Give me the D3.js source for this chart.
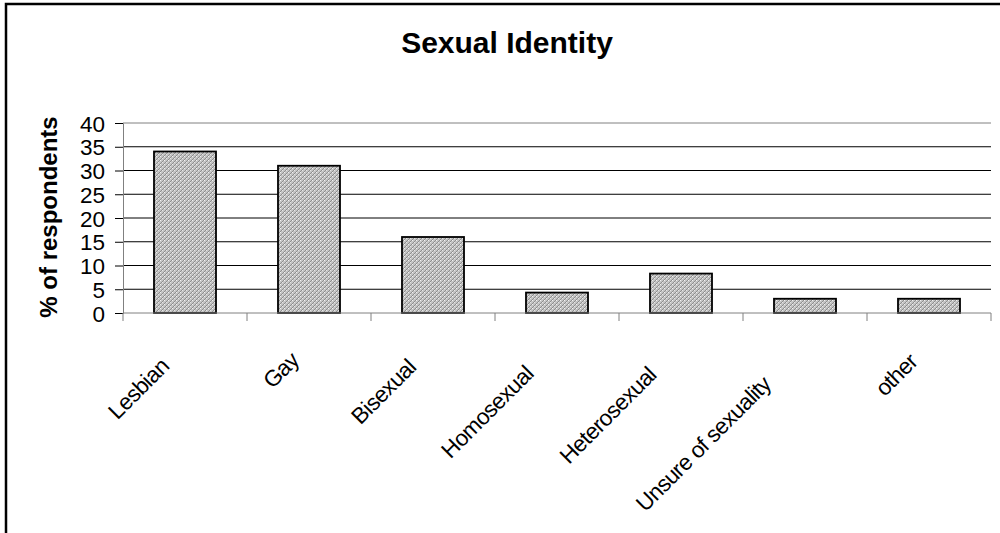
<!DOCTYPE html>
<html lang="en">
  <head>
    <meta charset="UTF-8" />
    <title>Sexual Identity</title>
    <script src="https://d3js.org/d3.v7.min.js"></script>
    <style>
      body {
        margin: 0;
        background: white;
        font-family: 'Liberation Sans', Arial, sans-serif;
      }
    </style>
  </head>
  <body>
    <div id="chart"></div>
    <script>
      const categories = ['Lesbian', 'Gay', 'Bisexual', 'Homosexual', 'Heterosexual', 'Unsure of sexuality', 'other'];
      const values = [34, 31, 16, 4.3, 8.3, 3, 3];
      const yTicks = [0, 5, 10, 15, 20, 25, 30, 35, 40];

      const W = 1000, H = 533;
      const plotL = 123, plotR = 991, plotT = 123, plotB = 313;

      const svg = d3.select('#chart').append('svg')
        .attr('width', W)
        .attr('height', H);

      // hatched grey fill like the old spreadsheet pattern
      const pat = svg.append('defs').append('pattern')
        .attr('id', 'hatch')
        .attr('patternUnits', 'userSpaceOnUse')
        .attr('width', 4)
        .attr('height', 4);
      pat.append('rect').attr('width', 4).attr('height', 4).attr('fill', '#c4c4c4');
      pat.append('path').attr('d', 'M0,4 L4,0').attr('stroke', '#8e8e8e').attr('stroke-width', 1);
      pat.append('rect').attr('x', 0).attr('y', 0).attr('width', 1).attr('height', 1).attr('fill', '#f2f2f2');
      pat.append('rect').attr('x', 2).attr('y', 2).attr('width', 1).attr('height', 1).attr('fill', '#e6e6e6');

      // outer frame
      svg.append('rect')
        .attr('x', 6).attr('y', 4)
        .attr('width', W + 10).attr('height', H + 10)
        .attr('fill', 'none')
        .attr('stroke', '#000')
        .attr('stroke-width', 2.5);

      const x = d3.scaleBand().domain(categories).range([plotL, plotR])
        .paddingInner(0.5).paddingOuter(0.25);
      const xCell = d3.scaleBand().domain(categories).range([plotL, plotR]).padding(0);
      const y = d3.scaleLinear().domain([0, 40]).range([plotB, plotT]);

      // gridlines
      svg.append('g')
        .selectAll('line')
        .data(yTicks.filter((d) => d > 0))
        .join('line')
        .attr('x1', plotL).attr('x2', plotR)
        .attr('y1', (d) => y(d)).attr('y2', (d) => y(d))
        .attr('stroke', (d) => (d === 40 ? '#808080' : '#000'))
        .attr('stroke-width', 1);

      // bars
      svg.append('g')
        .selectAll('rect')
        .data(values)
        .join('rect')
        .attr('x', (d, i) => x(categories[i]))
        .attr('y', (d) => y(d))
        .attr('width', x.bandwidth())
        .attr('height', (d) => y(0) - y(d))
        .attr('fill', 'url(#hatch)')
        .attr('stroke', '#000')
        .attr('stroke-width', 1.8);

      // y axis
      const yAxis = svg.append('g')
        .attr('transform', `translate(${plotL},0)`)
        .call(d3.axisLeft(y).tickValues(yTicks).tickSize(8).tickPadding(10));
      yAxis.select('.domain').attr('stroke', '#808080');
      yAxis.selectAll('.tick line').attr('stroke', '#000');
      yAxis.selectAll('text')
        .attr('font-size', 22.5)
        .attr('font-family', "'Liberation Sans', Arial, sans-serif")
        .attr('fill', '#000')
        .attr('dy', '0.36em');

      // x axis with ticks between categories
      const edges = categories.map((c) => xCell(c)).concat([plotR]);
      svg.append('line')
        .attr('x1', plotL).attr('x2', plotR)
        .attr('y1', plotB).attr('y2', plotB)
        .attr('stroke', '#808080');
      svg.append('g')
        .selectAll('line')
        .data(edges)
        .join('line')
        .attr('x1', (d) => d).attr('x2', (d) => d)
        .attr('y1', plotB).attr('y2', plotB + 8)
        .attr('stroke', '#808080');

      // rotated category labels
      svg.append('g')
        .selectAll('text')
        .data(categories)
        .join('text')
        .attr('font-size', 22.5)
        .attr('letter-spacing', -0.6)
        .attr('text-anchor', 'end')
        .text((d) => d)
        .each(function (d) {
          const L = this.getComputedTextLength();
          const cx = x(d) + x.bandwidth() / 2 - 2 - 0.17 * L;
          const cy = plotB + 42 + 0.17 * L;
          d3.select(this).attr('transform', `translate(${cx},${cy}) rotate(-45)`);
        });

      // title
      svg.append('text')
        .attr('x', 507).attr('y', 53)
        .attr('text-anchor', 'middle')
        .attr('font-size', 30)
        .attr('font-weight', 'bold')
        .text('Sexual Identity');

      // y label
      svg.append('text')
        .attr('transform', 'translate(57,217) rotate(-90)')
        .attr('text-anchor', 'middle')
        .attr('font-size', 24)
        .attr('font-weight', 'bold')
        .text('% of respondents');
    </script>
  </body>
</html>
